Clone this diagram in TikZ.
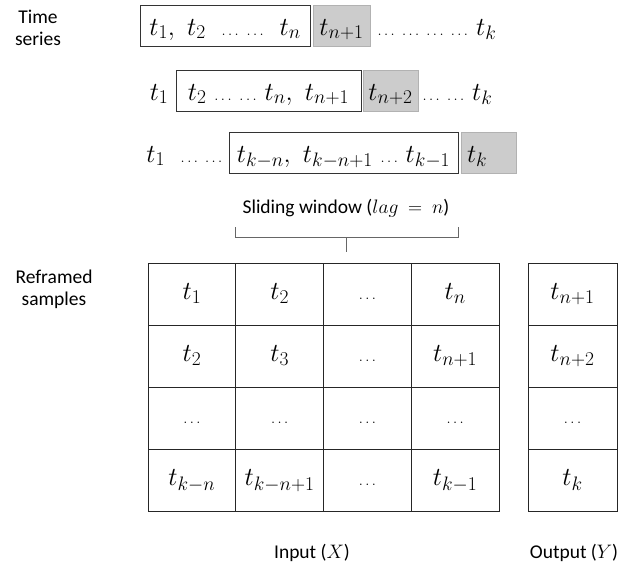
\RequirePackage{fix-cm}
\documentclass[tikz,border=0pt]{standalone}
\usepackage{fontspec}
\newfontfamily\lblfont{Carlito}
\usetikzlibrary{positioning}
\DeclareMathSizes{26}{26}{19.5}{15}
\newcommand{\dd}{\mbox{\fontsize{15}{15}\selectfont$\ldots$}}
\newcommand{\mathsz}{\fontsize{26}{29}\selectfont}

\begin{document}
\begin{tikzpicture}[x=1pt,y=-1pt,
  lbl/.style={font=\lblfont\fontsize{19.5}{22}\selectfont, align=center, inner sep=0pt},
  seq/.style={font=\mathsz, inner sep=0pt},
  win/.style={draw=black!80, line width=0.8pt, font=\mathsz, inner sep=0pt,
              minimum height=41pt, text height=20pt, text depth=1pt},
  nxt/.style={win, fill=black!20, draw=black!30},
  cell/.style={draw=black!85, line width=1pt, font=\mathsz, inner sep=0pt,
               minimum width=87.75pt, minimum height=62pt, text height=15pt, text depth=4pt}]
  \useasboundingbox (0,0) rectangle (633,568);

  % time series, three windows
  \node[lbl] (ts) at (38,28) {Time\\series};
  \node[win, minimum width=170pt] (w1) at (225,25.5) {$t_1,\ t_2\ \ \dd\ \dd\ \ t_n$};
  \node[nxt, minimum width=57pt] (g1) at (341.5,25.5) {$t_{n+1}$};
  \node[seq, anchor=base west] (r1) at ([xshift=7pt]g1.base east) {$\dd\;\dd\;\dd\;\dd\ t_k$};

  \node[win, minimum width=185pt] (w2) at (268.5,90.5) {$t_2\ \dd\ \dd\ t_n,\ t_{n+1}$};
  \node[nxt, minimum width=55pt] (g2) at (390.5,90.5) {$t_{n+2}$};
  \node[seq, anchor=base west] (r2) at ([xshift=4pt]g2.base east) {$\dd\;\dd\ t_k$};
  \node[seq, anchor=base east] (l2) at ([xshift=-7pt]w2.base west) {$t_1$};

  \node[win, minimum width=229pt] (w3) at (343.5,152.5) {$t_{k-n},\ t_{k-n+1}\ \dd\ t_{k-1}$};
  \node[nxt, text width=43pt, align=left, inner xsep=6pt] (g3) at (488.5,152.5) {$t_k$};
  \node[seq, anchor=base east] (l3) at ([xshift=-6pt]w3.base west) {$t_1\ \ \dd\;\dd$};

  % the window
  \node[lbl, anchor=base] (sw) at (346,213) {Sliding window ($lag\ =\ n$)};
  \draw[black!60, line width=0.8pt] (235,227) -- (235,237) -- (458,237) -- (458,227)
        (346.5,237) -- (346.5,252);

  % reframed samples
  \node[lbl] (rs) at (54,289) {Reframed\\samples};
  \foreach [count=\r] \row in {{t_1,t_2,\dd,t_n},{t_2,t_3,\dd,t_{n+1}},{\dd,\dd,\dd,\dd},{t_{k-n},t_{k-n+1},\dd,t_{k-1}}}
    \foreach [count=\c] \v in \row
      \node[cell] (x-\r-\c) at ({104.125+87.75*\c},{232+62*\r}) {$\v$};
  \foreach [count=\r] \v in {t_{n+1},t_{n+2},\dd,t_k}
    \node[cell, minimum width=89pt] (y-\r) at (572.5,{232+62*\r}) {$\v$};

  \node[lbl, anchor=base] (inx) at (312,558) {Input ($X$)};
  \node[lbl, anchor=base] (outy) at (574,558) {Output ($Y$)};
\end{tikzpicture}
\end{document}
